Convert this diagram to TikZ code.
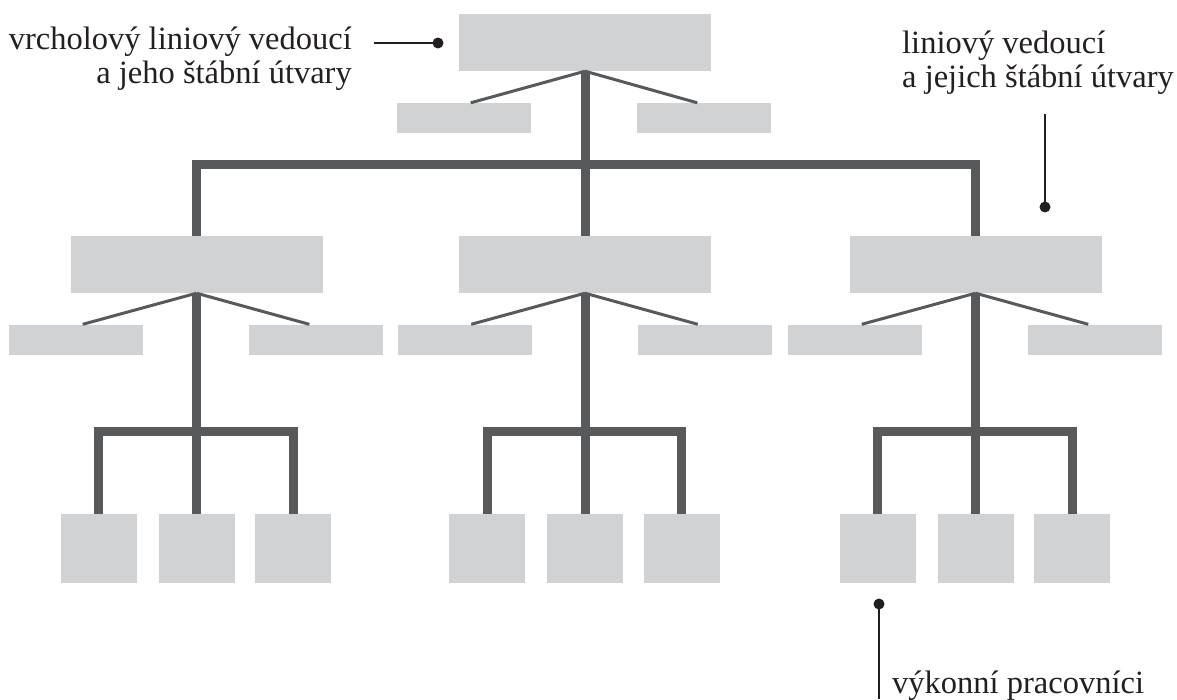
\documentclass[tikz,border=0pt]{standalone}
\usepackage{fontspec}
\setmainfont{Liberation Serif}
\usetikzlibrary{calc}
\definecolor{boxgray}{HTML}{D1D2D4}
\definecolor{linegray}{HTML}{58595B}
\definecolor{inkblack}{HTML}{231F20}
\tikzset{
  bigbox/.style={fill=boxgray, draw=none, minimum width=252pt, minimum height=57pt, inner sep=0pt},
  staffbox/.style={fill=boxgray, draw=none, minimum width=134pt, minimum height=30pt, inner sep=0pt},
  workbox/.style={fill=boxgray, draw=none, minimum width=76pt, minimum height=69pt, inner sep=0pt},
  trunk/.style={draw=linegray, line width=9pt, line join=miter},
  thinline/.style={draw=linegray, line width=3pt},
  pointer/.style={draw=inkblack, line width=2.5pt},
  dotnode/.style={circle, fill=inkblack, draw=none, minimum size=11pt, inner sep=0pt},
  label/.style={inner sep=0pt, text=inkblack, font=\fontsize{32.5}{34}\selectfont}
}
\begin{document}
\begin{tikzpicture}[x=1pt, y=-1pt]
\useasboundingbox (0,0) rectangle (1177,699);

% top
\node[bigbox] (top) at (585,42.5) {};
\node[staffbox] (topSL) at (464,118) {};
\node[staffbox] (topSR) at (704,118) {};

% second tier
\foreach \g/\dx in {L/0, M/388.5, R/779} {
  \node[bigbox] (\g) at (196.5+\dx,264.5) {};
  \node[staffbox] (\g SL) at (76+\dx,339.5) {};
  \node[staffbox] (\g SR) at (316+\dx,339.5) {};
  \node[workbox] (\g W1) at (98.5+\dx,548.5) {};
  \node[workbox] (\g W2) at (196.5+\dx,548.5) {};
  \node[workbox] (\g W3) at (293+\dx,548.5) {};
  \coordinate (\g br) at (196.5+\dx,431.5);
  \draw[thinline] (\g.south) -- ($(\g SL.north west)!0.55!(\g SL.north east)$);
  \draw[thinline] (\g.south) -- ($(\g SR.north west)!0.45!(\g SR.north east)$);
  \draw[trunk] (\g.south) -- (\g W2.north);
  \draw[trunk] (\g W1.north) |- (\g br) -| (\g W3.north);
}

\coordinate (bar) at (585,164.5);
\draw[thinline] (top.south) -- ($(topSL.north west)!0.55!(topSL.north east)$);
\draw[thinline] (top.south) -- ($(topSR.north west)!0.45!(topSR.north east)$);
\draw[trunk] (top.south) -- (M.north);
\draw[trunk] (L.north) |- (bar) -| (R.north);

% labels
\node[label, anchor=base east, align=right] (lab1) at (352,83)
  {vrcholový liniový vedoucí\\a jeho štábní útvary};
\coordinate (p1) at (374,43);
\node[dotnode] (d1) at (438,43) {};
\draw[pointer] (p1) -- (d1.center);

\node[label, anchor=base west, align=left] (lab2) at (902,87)
  {liniový vedoucí\\a jejich štábní útvary};
\coordinate (p2) at (1045,114);
\node[dotnode] (d2) at (1045,207) {};
\draw[pointer] (p2) -- (d2.center);

\node[label, anchor=base west] (lab3) at (892,693) {výkonní pracovníci};
\node[dotnode] (d3) at (879,604) {};
\coordinate (p3) at (879,699);
\draw[pointer] (d3.center) -- (p3);
\end{tikzpicture}
\end{document}
